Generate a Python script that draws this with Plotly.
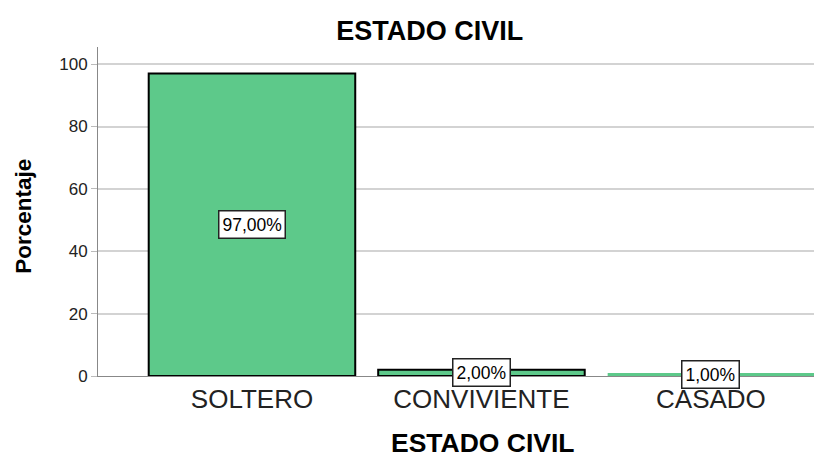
import plotly.graph_objects as go

categories = ["SOLTERO", "CONVIVIENTE", "CASADO"]
values = [97.0, 2.0, 1.0]
labels = ["97,00%", "2,00%", "1,00%"]
y_ticks = [0, 20, 40, 60, 80, 100]

FONT = "Liberation Sans, Arial"

fig = go.Figure()
fig.add_trace(go.Bar(
    x=list(range(len(categories))),
    y=values,
    width=0.9,
    marker=dict(color="#5DC98A", line=dict(color="black", width=[2, 2, 0])),
    hoverinfo="skip",
))

for i, (v, lab) in enumerate(zip(values, labels)):
    fig.add_annotation(
        x=i, y=v / 2, text=lab, showarrow=False,
        font=dict(family=FONT, size=17.5, color="black"),
        bgcolor="white", bordercolor="#222222", borderwidth=1.5, borderpad=3,
    )

# axis titles as annotations for exact placement
fig.add_annotation(
    xref="paper", yref="paper", x=0.532, y=-0.2515, xanchor="center", yanchor="bottom",
    text="<b>ESTADO CIVIL</b>", showarrow=False, borderpad=0,
    font=dict(family=FONT, size=26.5, color="black"),
)
fig.add_annotation(
    xref="paper", yref="paper", x=-0.104, y=0.486, xanchor="center", yanchor="middle",
    text="<b>Porcentaje</b>", textangle=-90, showarrow=False,
    font=dict(family=FONT, size=22.5, color="black"),
)

# page body has an 8px margin, so the figure is sized to fit the 822x459 window
fig.update_layout(
    width=814, height=451,
    margin=dict(l=90, r=0, t=39, b=83, autoexpand=False),
    paper_bgcolor="white", plot_bgcolor="white",
    showlegend=False,
    title=dict(text="<b>ESTADO CIVIL</b>", x=0.518, xanchor="center", y=0.951, yanchor="middle",
               font=dict(family=FONT, size=27, color="black")),
    font=dict(family=FONT, color="black"),
)
fig.update_xaxes(
    range=[-0.671, 2.484], automargin=False,
    tickmode="array", tickvals=list(range(len(categories))), ticktext=categories,
    tickfont=dict(size=26, color="#222222"),
    showgrid=False, showline=True, linecolor="#888888", linewidth=1,
    ticks="", zeroline=False,
)
fig.update_yaxes(
    range=[0, 105.5], automargin=False,
    tickmode="array", tickvals=y_ticks,
    tickfont=dict(size=17, color="#222222"),
    showgrid=True, gridcolor="#D3D3D3", gridwidth=1.5,
    showline=True, linecolor="#888888", linewidth=1,
    ticks="outside", ticklen=6, tickcolor="#BBBBBB",
    zeroline=False,
)

fig.write_html("out.html")
